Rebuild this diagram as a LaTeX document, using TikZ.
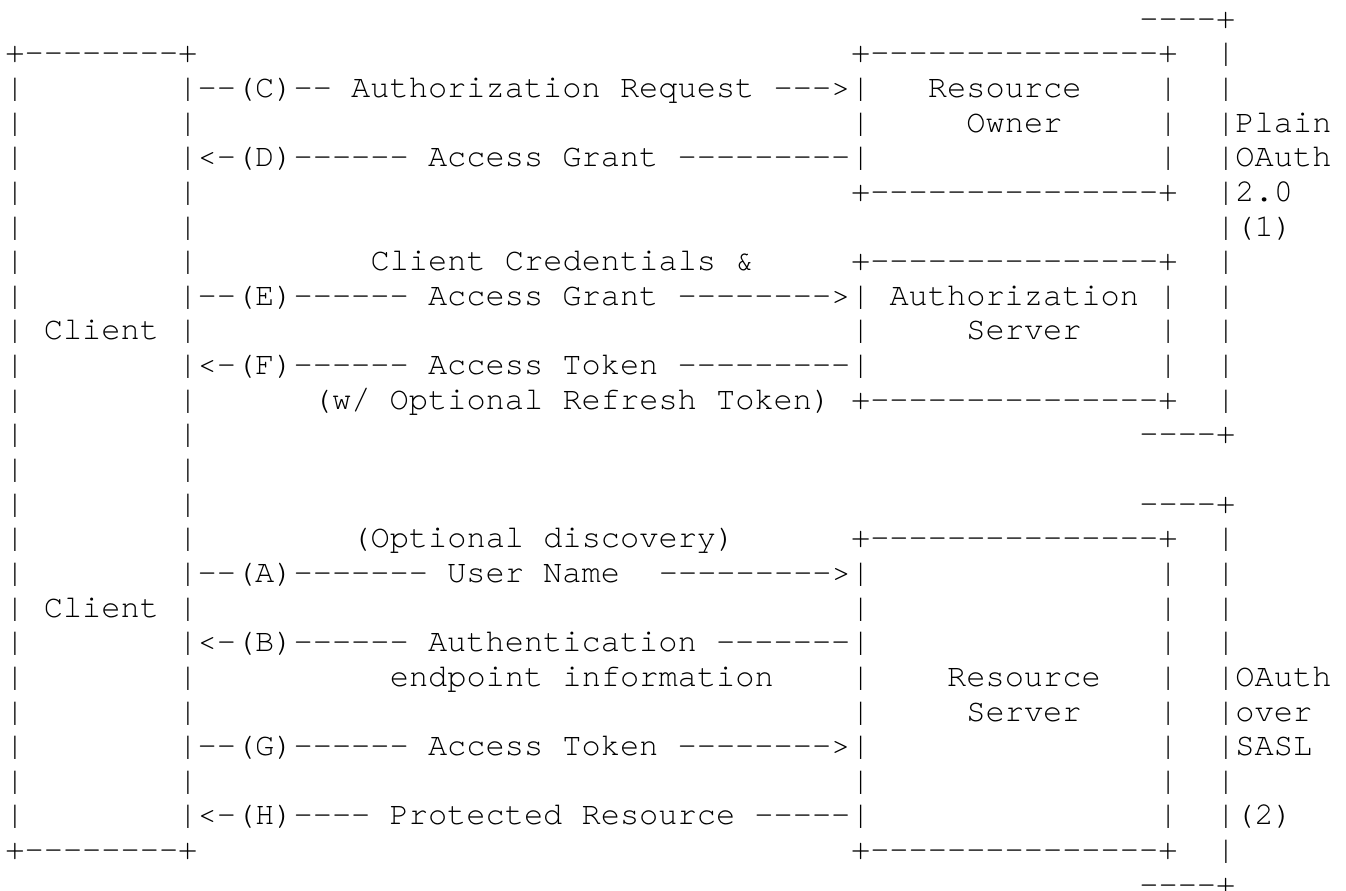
\documentclass[tikz,border=0pt]{standalone}
\usepackage{fontspec}
\setmonofont[Extension=.otf]{texgyrecursor-regular}
\frenchspacing
\tikzset{asc/.style={anchor=base west,inner sep=0pt,outer sep=0pt,font=\ttfamily\fontsize{32}{34.64}\selectfont,text=black}}
\newcommand\asctext[4]{\node[asc] (#1) at ({5.4+19.22*(#3)},{-28.2-34.64*(#2)}) {#4};}
\begin{document}
\begin{tikzpicture}[x=1pt,y=1pt]
\useasboundingbox (0,0) rectangle (1346,-891);
\fill[white] (0,0) rectangle (1346,-891);
% Client box
\asctext{cltop}{1}{0}{+--------+}
\asctext{clbot}{24}{0}{+--------+}
\foreach \r in {2,...,23}{\asctext{cll\r}{\r}{0}{|}\asctext{clr\r}{\r}{9}{|}}
\asctext{client1}{9}{2}{Client}
\asctext{client2}{17}{2}{Client}
% Resource Owner box
\asctext{rotop}{1}{44}{+---------------+}
\asctext{robot}{5}{44}{+---------------+}
\foreach \r in {2,...,4}{\asctext{rol\r}{\r}{44}{|}\asctext{ror\r}{\r}{60}{|}}
\asctext{ro1}{2}{48}{Resource}
\asctext{ro2}{3}{50}{Owner}
% Authorization Server box
\asctext{astop}{7}{44}{+---------------+}
\asctext{asbot}{11}{44}{+---------------+}
\foreach \r in {8,...,10}{\asctext{asl\r}{\r}{44}{|}\asctext{asr\r}{\r}{60}{|}}
\asctext{as1}{8}{46}{Authorization}
\asctext{as2}{9}{50}{Server}
% Resource Server box
\asctext{rstop}{15}{44}{+---------------+}
\asctext{rsbot}{24}{44}{+---------------+}
\foreach \r in {16,...,23}{\asctext{rsl\r}{\r}{44}{|}\asctext{rsr\r}{\r}{60}{|}}
\asctext{rs1}{19}{49}{Resource}
\asctext{rs2}{20}{50}{Server}
% Bracket 1
\asctext{bk1top}{0}{59}{----+}
\asctext{bk1bot}{12}{59}{----+}
\foreach \r in {1,...,11}{\asctext{bka\r}{\r}{63}{|}}
\asctext{bk1a}{3}{64}{Plain}
\asctext{bk1b}{4}{64}{OAuth}
\asctext{bk1c}{5}{64}{2.0}
\asctext{bk1d}{6}{64}{(1)}
% Bracket 2
\asctext{bk2top}{14}{59}{----+}
\asctext{bk2bot}{25}{59}{----+}
\foreach \r in {15,...,24}{\asctext{bkb\r}{\r}{63}{|}}
\asctext{bk2a}{19}{64}{OAuth}
\asctext{bk2b}{20}{64}{over}
\asctext{bk2c}{21}{64}{SASL}
\asctext{bk2d}{23}{64}{(2)}
% Messages
\asctext{mC}{2}{10}{--(C)-- Authorization Request --->}
\asctext{mD}{4}{10}{<-(D)------ Access Grant ---------}
\asctext{mEa}{7}{19}{Client Credentials \&}
\asctext{mE}{8}{10}{--(E)------ Access Grant -------->}
\asctext{mF}{10}{10}{<-(F)------ Access Token ---------}
\asctext{mFa}{11}{16}{(w/ Optional Refresh Token)}
\asctext{mAa}{15}{18}{(Optional discovery)}
\asctext{mA}{16}{10}{--(A)------- User Name}
\asctext{mAb}{16}{34}{--------->}
\asctext{mB}{18}{10}{<-(B)------ Authentication -------}
\asctext{mBa}{19}{20}{endpoint information}
\asctext{mG}{21}{10}{--(G)------ Access Token -------->}
\asctext{mH}{23}{10}{<-(H)---- Protected Resource -----}
\end{tikzpicture}
\end{document}
